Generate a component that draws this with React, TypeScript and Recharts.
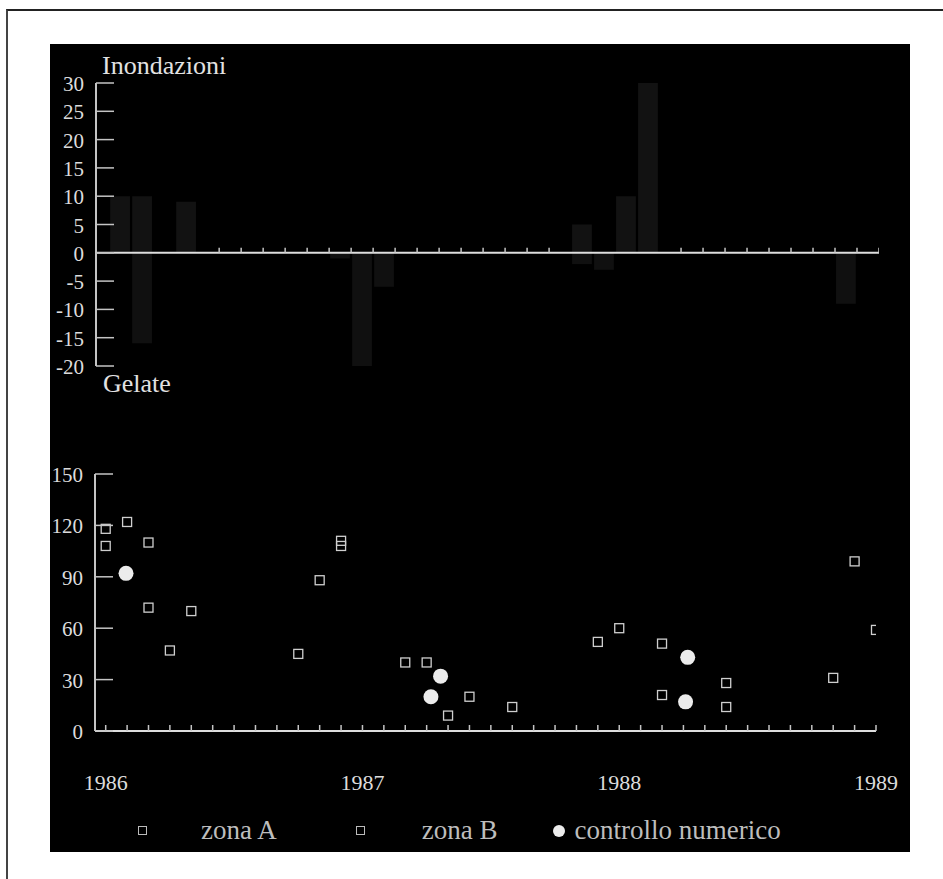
import React from "react";
import { ComposedChart, ScatterChart, Bar, Scatter, XAxis, YAxis, ReferenceLine, Legend } from "recharts";

const FONT = '"Liberation Serif", "Times New Roman", serif';
const INK = "#dcdcdc";
const AXIS = "#c4c4c4";

// top panel (months counted from Jan 1986, each bar fills its month)
const barMonths = [1, 2, 4, 11, 12, 13, 22, 23, 24, 25, 34];
const inondazioni = [10, 10, 9, 0, 0, 0, 5, 0, 10, 30, 0];
const gelateBars = [0, -16, 0, -1, -20, -6, -2, -3, 0, 0, -9];
const topTicks = [-20, -15, -10, -5, 0, 5, 10, 15, 20, 25, 30];
const zeroLineMarks = [6, 7, 8, 9, 10, 11, 12, 13, 14, 15, 16, 17, 18, 19, 20, 21, 27, 28, 29, 30, 31, 32, 33, 34, 35, 36];

// bottom panel
const zonaAMonths = [0, 1, 2, 4, 10, 11, 14, 16, 23, 26, 29, 35];
const zonaAValues = [118, 122, 110, 70, 88, 111, 40, 9, 52, 51, 28, 99];
const zonaBMonths = [0, 2, 3, 9, 11, 15, 17, 19, 24, 26, 29, 34, 36];
const zonaBValues = [108, 72, 47, 45, 108, 40, 20, 14, 60, 21, 14, 31, 59];
const ctrlMonths = [0.95, 15.2, 15.65, 27.2, 27.1];
const ctrlValues = [92, 20, 32, 43, 17];
const bottomTicks = [0, 30, 60, 90, 120, 150];
const monthTicks = Array.from({ length: 37 }, (_, i) => i);
const yearMonths = [0, 12, 24, 36];
const yearLabels = ["1986", "1987", "1988", "1989"];
const seriesNames = ["zona A", "zona B", "controllo numerico"];

// bars sit on their own axis, shifted half a month so each bar fills its month
const barData = barMonths.map((m, i) => ({ b: m, inond: inondazioni[i], gel: gelateBars[i] }));
const markData = zeroLineMarks.map((m) => ({ m, v: 0 }));
const zonaA = zonaAMonths.map((m, i) => ({ m, v: zonaAValues[i] }));
const zonaB = zonaBMonths.map((m, i) => ({ m, v: zonaBValues[i] }));
const ctrl = ctrlMonths.map((m, i) => ({ m, v: ctrlValues[i] }));

const YTick = (p: any) => (
  <g>
    <line x1={p.x} x2={p.x + 18} y1={p.y} y2={p.y} stroke={AXIS} strokeWidth={1.5} />
    <text x={p.x - 12} y={p.y + 8} textAnchor="end" fill={INK} fontFamily={FONT} fontSize={21}>
      {p.payload.value}
    </text>
  </g>
);

const MonthTick = (p: any) => {
  const yi = yearMonths.indexOf(p.payload.value);
  return (
    <g>
      <line x1={p.x} x2={p.x} y1={p.y} y2={p.y - 6} stroke={AXIS} strokeWidth={1.5} />
      {yi >= 0 && (
        <text x={p.x} y={p.y + 59} textAnchor="middle" fill={INK} fontFamily={FONT} fontSize={22}>
          {yearLabels[yi]}
        </text>
      )}
    </g>
  );
};

const zeroMark = (p: any) => <line x1={p.cx} x2={p.cx} y1={p.cy} y2={p.cy - 5} stroke={AXIS} strokeWidth={1.5} />;
const squareShape = (p: any) => (
  <rect x={p.cx - 4.5} y={p.cy - 4.5} width={9} height={9} fill="none" stroke="#cfcfcf" strokeWidth={1.3} />
);
const dotShape = (p: any) => <circle cx={p.cx} cy={p.cy} r={7.5} fill="#ececec" />;

const renderLegend = (props: any) => {
  const items = [...(props.payload || [])].sort(
    (a: any, b: any) => seriesNames.indexOf(a.value) - seriesNames.indexOf(b.value)
  );
  const gaps = [79, 56, 0];
  return (
    <div style={{ display: "flex", alignItems: "center", paddingLeft: 88, fontFamily: FONT, fontSize: 27, color: "#bdbdbd" }}>
      {items.map((it: any, i: number) => (
        <div key={it.value} style={{ display: "flex", alignItems: "center", marginRight: gaps[i] }}>
          {it.type === "circle" ? (
            <span style={{ width: 12, height: 12, borderRadius: 6, background: "#ececec", display: "inline-block" }} />
          ) : (
            <span style={{ width: 7, height: 7, border: "1px solid #bbb", display: "inline-block" }} />
          )}
          <span style={{ marginLeft: it.type === "circle" ? 9 : i === 0 ? 54 : 57 }}>{it.value}</span>
        </div>
      ))}
    </div>
  );
};

export default function App() {
  return (
    <div style={{ position: "absolute", left: 0, top: 0, width: 943, height: 879, background: "#fff", overflow: "hidden" }}>
      <div style={{ position: "absolute", left: 6, top: 9, width: 960, height: 900, borderLeft: "2px solid #444", borderTop: "2px solid #222" }} />
      <div style={{ position: "absolute", left: 50, top: 44, width: 860, height: 808, background: "#000" }}>
        <div style={{ position: "absolute", left: 52, top: 9, color: "#e2e2e2", fontFamily: FONT, fontSize: 26, lineHeight: "26px" }}>
          Inondazioni
        </div>
        <div style={{ position: "absolute", left: 53, top: 327, color: "#e2e2e2", fontFamily: FONT, fontSize: 26, lineHeight: "26px" }}>
          Gelate
        </div>

        <div style={{ position: "absolute", left: 0, top: 0 }}>
          <ComposedChart width={860} height={360} data={barData} stackOffset="sign" barGap={0} barCategoryGap={0} margin={{ top: 39, right: 31, bottom: 38, left: 0 }}>
            <XAxis xAxisId="marks" type="number" dataKey="m" domain={[0.4, 36]} hide allowDataOverflow />
            <XAxis xAxisId="bars" type="number" dataKey="b" domain={[-0.1, 35.5]} hide allowDataOverflow />
            <YAxis
              type="number"
              domain={[-20, 30]}
              ticks={topTicks}
              interval={0}
              width={46}
              tickSize={0}
              tickMargin={0}
              tickLine={false}
              tick={YTick}
              axisLine={{ stroke: AXIS, strokeWidth: 2 }}
            />
            <Bar xAxisId="bars" dataKey="inond" stackId="s" barSize={22} fill="#121212" isAnimationActive={false} />
            <Bar xAxisId="bars" dataKey="gel" stackId="s" barSize={22} fill="#101010" isAnimationActive={false} />
            <ReferenceLine xAxisId="marks" y={0} stroke="#dedede" strokeWidth={2} />
            <Scatter xAxisId="marks" data={markData} dataKey="v" shape={zeroMark} isAnimationActive={false} />
          </ComposedChart>
        </div>

        <div style={{ position: "absolute", left: 0, top: 360 }}>
          <ScatterChart width={860} height={448} margin={{ top: 70, right: 34, bottom: 91, left: 0 }}>
            <XAxis
              type="number"
              dataKey="m"
              domain={[-0.5, 36]}
              ticks={monthTicks}
              interval={0}
              height={30}
              tickSize={0}
              tickMargin={0}
              tickLine={false}
              tick={MonthTick}
              axisLine={{ stroke: "#dedede", strokeWidth: 2 }}
              allowDataOverflow
            />
            <YAxis
              type="number"
              dataKey="v"
              domain={[0, 150]}
              ticks={bottomTicks}
              interval={0}
              width={45}
              tickSize={0}
              tickMargin={0}
              tickLine={false}
              tick={YTick}
              axisLine={{ stroke: AXIS, strokeWidth: 2 }}
            />
            <Legend
              layout="horizontal"
              verticalAlign="middle"
              align="center"
              content={renderLegend}
              wrapperStyle={{ left: 0, top: 411, width: 860 }}
            />
            <Scatter name="zona A" data={zonaA} legendType="square" shape={squareShape} isAnimationActive={false} />
            <Scatter name="zona B" data={zonaB} legendType="square" shape={squareShape} isAnimationActive={false} />
            <Scatter name="controllo numerico" data={ctrl} legendType="circle" shape={dotShape} isAnimationActive={false} />
          </ScatterChart>
        </div>
      </div>
    </div>
  );
}
